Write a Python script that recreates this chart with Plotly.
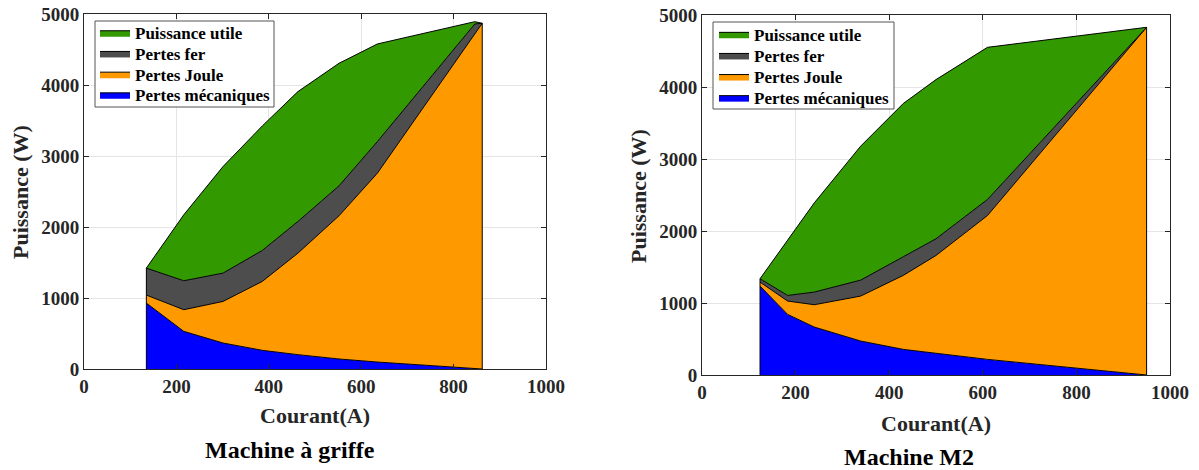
import plotly.graph_objects as go

# ---- Data: Machine à griffe (left) ----
courant_g = [135, 216, 301, 386, 463, 552, 635, 846, 862]
mec_g = [929, 530, 366, 263, 202, 141, 98, 7, 0]
joule_g = [112, 305, 586, 971, 1430, 2017, 2660, 4713, 4869]
fer_g = [380, 408, 399, 436, 446, 422, 445, 140, 0]
utile_g = [0, 929, 1501, 1754, 1829, 1726, 1375, 32, 0]

# ---- Data: Machine M2 (right) ----
courant_m = [124, 183, 240, 339, 430, 500, 610, 950]
mec_m = [1235, 842, 666, 472, 356, 300, 217, 0]
joule_m = [55, 185, 310, 624, 1027, 1360, 1998, 4829]
fer_m = [47, 78, 176, 222, 259, 232, 223, 0]
utile_m = [0, 777, 1239, 1860, 2128, 2211, 2113, 0]

series_names = ["Pertes mécaniques", "Pertes Joule", "Pertes fer", "Puissance utile"]
series_colors = ["#0000ff", "#ff9900", "#4d4d4d", "#339900"]

FONT = "Liberation Serif"
W, H = 1199, 470

fig = go.Figure()

# legend layout (pixels): text left x, first row centre y, row spacing, box
legend_specs = {
    "g": dict(text_x=135, row0=32.7, dy=20.7, box=(95, 21, 274, 107), first=1),
    "m": dict(text_x=754, row0=34.3, dy=21.1, box=(713, 22, 894, 109), first=5),
}

def add_machine(x, series, xa, ya, group):
    spec = legend_specs[group]
    total = [0] * len(x)
    n = len(series_names)
    for k, (name, color, vals) in enumerate(zip(series_names, series_colors, series)):
        total = [t + v for t, v in zip(total, vals)]
        lid = spec["first"] + k
        lname = "legend" if lid == 1 else f"legend{lid}"
        fig.add_trace(go.Scatter(
            x=x, y=vals, name=name, mode="lines", stackgroup=group,
            line=dict(color="black", width=1), fillcolor=color,
            xaxis=xa, yaxis=ya, legend=lname, hoverinfo="x+y+name",
        ))
        row = n - 1 - k  # top row = last series
        cy = spec["row0"] + row * spec["dy"]
        fig.update_layout({lname: dict(
            x=(spec["text_x"] - 40) / W, y=(H - (cy - 17.5)) / H,
            xanchor="left", yanchor="top", bgcolor="rgba(0,0,0,0)", borderwidth=0,
            font=dict(family=FONT, size=17, color="black", weight="bold"),
        )})
    # vertical edges of the area polygon
    for i in (0, len(x) - 1):
        fig.add_trace(go.Scatter(
            x=[x[i], x[i]], y=[0, total[i]], mode="lines",
            line=dict(color="black", width=1), showlegend=False,
            xaxis=xa, yaxis=ya, hoverinfo="skip",
        ))
    x0, y0, x1, y1 = spec["box"]
    fig.add_shape(type="rect", xref="paper", yref="paper",
                  x0=x0 / W, x1=x1 / W, y0=(H - y1) / H, y1=(H - y0) / H,
                  line=dict(color="#555555", width=1), fillcolor="white", layer="above")

add_machine(courant_g, [mec_g, joule_g, fer_g, utile_g], "x", "y", "g")
add_machine(courant_m, [mec_m, joule_m, fer_m, utile_m], "x2", "y2", "m")

tick_font = dict(family=FONT, size=19, color="#262626", weight="bold")
axis_common = dict(
    showline=True, linecolor="#262626", linewidth=1, mirror="ticks",
    ticks="inside", ticklen=5, tickcolor="#262626",
    showgrid=True, gridcolor="#e5e5e5", gridwidth=1, zeroline=False,
    tickfont=tick_font, automargin=False,
)

def px_x(a, b):
    return [a / W, b / W]
def px_y(top, bottom):
    return [(H - bottom) / H, (H - top) / H]

fig.update_layout(
    template="none",
    width=W, height=H, margin=dict(l=0, r=0, t=0, b=0, pad=0),
    paper_bgcolor="white", plot_bgcolor="white",
    font=dict(family=FONT, color="black"),
    xaxis=dict(domain=px_x(84, 546), range=[0, 1000], tickvals=[0, 200, 400, 600, 800, 1000],
               anchor="y", **axis_common),
    yaxis=dict(domain=px_y(14, 369), range=[0, 5000], tickvals=[0, 1000, 2000, 3000, 4000, 5000],
               anchor="x", **axis_common),
    xaxis2=dict(domain=px_x(702, 1170), range=[0, 1000], tickvals=[0, 200, 400, 600, 800, 1000],
                anchor="y2", **axis_common),
    yaxis2=dict(domain=px_y(15, 375), range=[0, 5000], tickvals=[0, 1000, 2000, 3000, 4000, 5000],
                anchor="x2", **axis_common),
    showlegend=True,
)

ann_font = dict(family=FONT, size=22, color="#262626", weight="bold")
title_font = dict(family=FONT, size=24, color="black", weight="bold")
annotations = [
    dict(text="Courant(A)", x=315 / W, y=(H - 415) / H, font=ann_font),
    dict(text="Courant(A)", x=936 / W, y=(H - 423) / H, font=ann_font),
    dict(text="Puissance (W)", x=20 / W, y=(H - 192) / H, font=ann_font, textangle=-90),
    dict(text="Puissance (W)", x=638 / W, y=(H - 196) / H, font=ann_font, textangle=-90),
    dict(text="Machine à griffe", x=290 / W, y=(H - 450) / H, font=title_font),
    dict(text="Machine M2", x=909 / W, y=(H - 457) / H, font=title_font),
]
for a in annotations:
    fig.add_annotation(xref="paper", yref="paper", xanchor="center", yanchor="middle",
                       showarrow=False, **a)

fig.write_html(
    "out.html",
    config={"displayModeBar": False},
    post_script="document.body.style.margin='0';document.body.style.overflow='hidden';",
)
